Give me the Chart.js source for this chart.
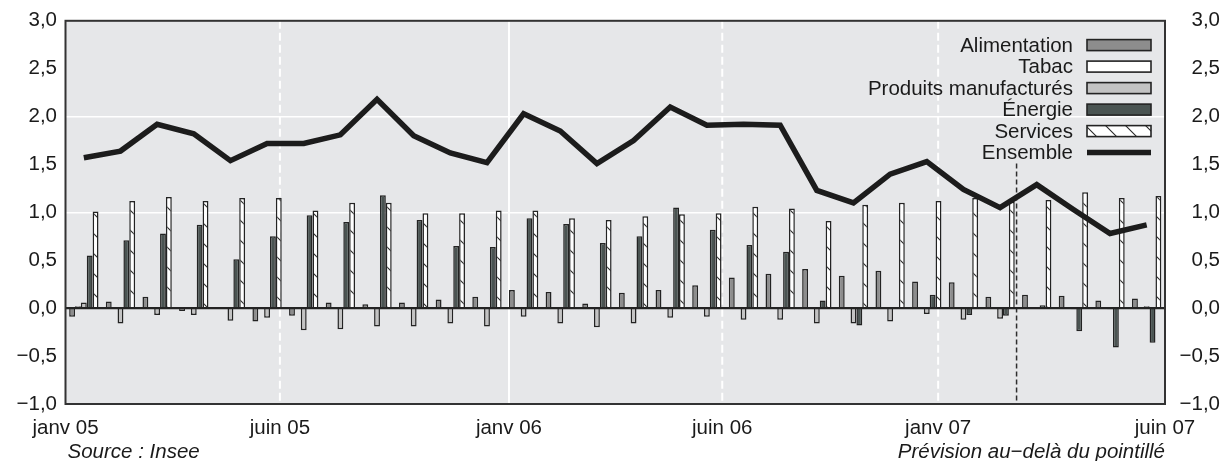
<!DOCTYPE html>
<html>
<head>
<meta charset="utf-8">
<script src="https://cdn.jsdelivr.net/npm/chart.js@4.4.1/dist/chart.umd.min.js"></script>
<style>
  html, body { margin: 0; padding: 0; background: #ffffff; }
  #wrap { position: relative; width: 1224px; height: 461px; }
</style>
</head>
<body>
<div id="wrap"><canvas id="c"></canvas></div>
<script>
// ---------- DATA ----------
const months = ['janv 05','févr 05','mars 05','avr 05','mai 05','juin 05','juil 05','août 05','sept 05','oct 05','nov 05','déc 05',
                'janv 06','févr 06','mars 06','avr 06','mai 06','juin 06','juil 06','août 06','sept 06','oct 06','nov 06','déc 06',
                'janv 07','févr 07','mars 07','avr 07','mai 07','juin 07'];
const alimentation = [-0.09, 0.07, 0.12, -0.03, 0.00, -0.14, -0.08, 0.06, 0.04, 0.06, 0.09, 0.12,
                       0.19, 0.17, 0.05, 0.16, 0.19, 0.24, 0.32, 0.36, 0.41, 0.34, 0.39, 0.28,
                       0.27, 0.12, 0.14, 0.13, 0.08, 0.10];
const tabac = [0.02, 0.01, 0.01, 0.01, 0.01, 0.01, 0.01, 0.01, 0.01, 0.01, 0.01, 0.01,
               0.01, 0.01, 0.01, 0.01, 0.01, 0.01, 0.01, 0.01, 0.01, 0.00, 0.00, 0.00,
               0.00, 0.00, 0.00, 0.00, 0.00, 0.00];
const produitsManufactures = [0.06, -0.16, -0.07, -0.07, -0.13, -0.10, -0.23, -0.22, -0.19, -0.19, -0.16, -0.19,
                              -0.09, -0.16, -0.20, -0.16, -0.10, -0.09, -0.12, -0.12, -0.16, -0.16, -0.14, -0.06,
                              -0.12, -0.11, 0.00, -0.01, -0.01, 0.02];
const energie = [0.55, 0.71, 0.78, 0.87, 0.51, 0.75, 0.97, 0.90, 1.18, 0.92, 0.65, 0.64,
                 0.94, 0.88, 0.68, 0.75, 1.05, 0.82, 0.66, 0.59, 0.08, -0.18, 0.01, 0.14,
                 -0.07, -0.08, 0.03, -0.24, -0.41, -0.36];
const services = [1.01, 1.12, 1.16, 1.12, 1.15, 1.15, 1.02, 1.10, 1.10, 0.99, 0.99, 1.02,
                  1.02, 0.94, 0.92, 0.96, 0.98, 0.99, 1.06, 1.04, 0.91, 1.08, 1.10, 1.12,
                  1.15, 1.11, 1.13, 1.21, 1.15, 1.17];
const ensemble = [1.57, 1.64, 1.92, 1.82, 1.54, 1.72, 1.72, 1.81, 2.18, 1.80, 1.62, 1.52,
                  2.03, 1.85, 1.51, 1.75, 2.10, 1.91, 1.92, 1.91, 1.23, 1.10, 1.40, 1.53,
                  1.24, 1.05, 1.29, 1.03, 0.78, 0.87];
const seriesLabels = ['Alimentation', 'Tabac', 'Produits manufacturés', 'Énergie', 'Services', 'Ensemble'];
const xTickLabels = ['janv 05', 'juin 05', 'janv 06', 'juin 06', 'janv 07', 'juin 07'];
const sourceText = 'Source : Insee';
const forecastText = 'Prévision au\u2212delà du pointillé';

// ---------- AXIS GEOMETRY (in month units along the time axis) ----------
const xTickPos = [0, 5.85, 12.1, 17.92, 23.81, 30];
const xTickDashed = [false, true, false, true, true, false];
const forecastPos = 25.95;

// ---------- STYLE ----------
const FONT = '"Liberation Sans", Arial, Helvetica, sans-serif';
const FS = 20.5;
const TEXT = '#1a1a1a';
const EDGE = '#232323';

const cv = document.getElementById('c');
const mainCtx = cv.getContext('2d');
function hatchPattern() {
  const t = document.createElement('canvas');
  t.width = 20; t.height = 20;
  const g = t.getContext('2d');
  g.fillStyle = '#ffffff'; g.fillRect(0, 0, 20, 20);
  g.strokeStyle = '#2a2a2a'; g.lineWidth = 1.1;
  g.beginPath();
  g.moveTo(-2, -2); g.lineTo(22, 22);
  g.moveTo(-22, -2); g.lineTo(2, 22);
  g.moveTo(18, -2); g.lineTo(42, 22);
  g.stroke();
  return mainCtx.createPattern(t, 'repeat');
}

const fmt = v => { if (Math.abs(v) < 1e-9) v = 0; return v.toFixed(1).replace('.', ',').replace('-', '\u2212'); };

const bgPlugin = {
  id: 'bg',
  beforeDraw(chart) {
    const { ctx, chartArea: a } = chart;
    ctx.save();
    ctx.fillStyle = '#e6e7e9';
    ctx.fillRect(a.left, a.top, a.right - a.left, a.bottom - a.top);
    ctx.restore();
  },
  beforeDatasetsDraw(chart) {
    const { ctx, chartArea: a } = chart;
    const xs = chart.scales.xt;
    ctx.save();
    ctx.strokeStyle = '#ffffff';
    ctx.lineWidth = 2;
    for (let i = 1; i < xTickPos.length - 1; i++) {
      const px = xs.getPixelForValue(xTickPos[i]);
      ctx.setLineDash(xTickDashed[i] ? [8, 4] : []);
      ctx.beginPath(); ctx.moveTo(px, a.top); ctx.lineTo(px, a.bottom); ctx.stroke();
    }
    const fx = xs.getPixelForValue(forecastPos);
    ctx.strokeStyle = '#2e2e2e';
    ctx.lineWidth = 1.5;
    ctx.setLineDash([5, 3]);
    const legendBottom = a.top + 24.3 + 5 * 21.5 + 11;
    ctx.beginPath(); ctx.moveTo(fx, legendBottom); ctx.lineTo(fx, a.bottom); ctx.stroke();
    ctx.restore();
  },
  afterDatasetsDraw(chart) {
    const { ctx, chartArea: a } = chart;
    const ys = chart.scales.y;
    ctx.save();
    const y0 = ys.getPixelForValue(0);
    ctx.strokeStyle = EDGE; ctx.lineWidth = 2.2;
    ctx.beginPath(); ctx.moveTo(a.left, y0); ctx.lineTo(a.right, y0); ctx.stroke();
    ctx.strokeStyle = '#333333'; ctx.lineWidth = 2;
    ctx.strokeRect(a.left, a.top, a.right - a.left, a.bottom - a.top);
    ctx.restore();
  },
  afterDraw(chart) {
    const { ctx, chartArea: a } = chart;
    ctx.save();
    ctx.font = FS + 'px ' + FONT;
    ctx.textAlign = 'right';
    ctx.textBaseline = 'middle';
    chart.data.datasets.forEach((ds, i) => {
      const y = a.top + 24.3 + i * 21.5;
      ctx.fillStyle = TEXT;
      ctx.fillText(ds.label, a.right - 92, y + 1);
      const bx = a.right - 78, bw = 64;
      if (ds.type === 'line') {
        ctx.strokeStyle = ds.borderColor; ctx.lineWidth = 5.5;
        ctx.beginPath(); ctx.moveTo(bx, y); ctx.lineTo(bx + bw, y); ctx.stroke();
      } else {
        ctx.fillStyle = ds.backgroundColor;
        ctx.fillRect(bx, y - 5.5, bw, 11);
        ctx.strokeStyle = EDGE; ctx.lineWidth = 1.6;
        ctx.strokeRect(bx, y - 5.5, bw, 11);
      }
    });
    ctx.fillStyle = TEXT;
    ctx.font = 'italic ' + FS + 'px ' + FONT;
    ctx.textAlign = 'left';
    ctx.fillText(sourceText, a.left + 2, 452);
    ctx.textAlign = 'right';
    ctx.fillText(forecastText, a.right, 452);
    ctx.restore();
  }
};

const barCommon = { borderColor: EDGE, borderWidth: 1.5, categoryPercentage: 0.8, barPercentage: 1.0, order: 2, yAxisID: 'y', xAxisID: 'x' };

const chart = new Chart(cv, {
  type: 'bar',
  data: {
    labels: months,
    datasets: [
      Object.assign({ type: 'bar', label: seriesLabels[0], data: alimentation, backgroundColor: '#8d8d8d' }, barCommon),
      Object.assign({ type: 'bar', label: seriesLabels[1], data: tabac, backgroundColor: '#ffffff' }, barCommon),
      Object.assign({ type: 'bar', label: seriesLabels[2], data: produitsManufactures, backgroundColor: '#c3c3c3' }, barCommon),
      Object.assign({ type: 'bar', label: seriesLabels[3], data: energie, backgroundColor: '#4a5452' }, barCommon),
      Object.assign({ type: 'bar', label: seriesLabels[4], data: services, backgroundColor: hatchPattern() }, barCommon),
      { type: 'line', label: seriesLabels[5], data: ensemble, borderColor: '#1c1c1c', borderWidth: 5.5, pointRadius: 0,
        tension: 0, fill: false, order: 0, yAxisID: 'y', xAxisID: 'x' }
    ]
  },
  options: {
    responsive: true,
    maintainAspectRatio: false,
    animation: false,
    devicePixelRatio: 1,
    layout: { padding: { left: 0, right: 4, top: 20, bottom: 17 } },
    plugins: { legend: { display: false }, tooltip: { enabled: false } },
    font: { family: FONT, size: FS },
    scales: {
      x: { type: 'category', offset: true, display: false, grid: { display: false } },
      xt: {
        type: 'linear', position: 'bottom', min: 0, max: 30, offset: false,
        grid: { display: false, drawTicks: false },
        border: { display: false },
        afterBuildTicks: s => { s.ticks = xTickPos.map(v => ({ value: v })); },
        afterFit: s => { s.height = 40; },
        ticks: {
          autoSkip: false, maxRotation: 0, minRotation: 0, padding: 12,
          color: TEXT, font: { family: FONT, size: FS },
          callback: (v, i) => xTickLabels[i]
        }
      },
      y: {
        type: 'linear', position: 'left', min: -1, max: 3,
        grid: {
          drawTicks: false, lineWidth: 1.6,
          color: c => (c.tick && (Math.abs(c.tick.value - 1) < 1e-9 || Math.abs(c.tick.value - 2) < 1e-9)) ? '#ffffff' : 'rgba(0,0,0,0)'
        },
        border: { display: false },
        afterFit: s => { s.width = 65.5; },
        ticks: { stepSize: 0.5, padding: 8.5, color: TEXT, font: { family: FONT, size: FS }, callback: v => fmt(v) }
      },
      y2: {
        type: 'linear', position: 'right', min: -1, max: 3,
        grid: { display: false, drawTicks: false },
        border: { display: false },
        afterFit: s => { s.width = 55; },
        ticks: { stepSize: 0.5, crossAlign: 'far', color: TEXT, font: { family: FONT, size: FS }, callback: v => fmt(v) }
      }
    }
  },
  plugins: [bgPlugin]
});
</script>
</body>
</html>
